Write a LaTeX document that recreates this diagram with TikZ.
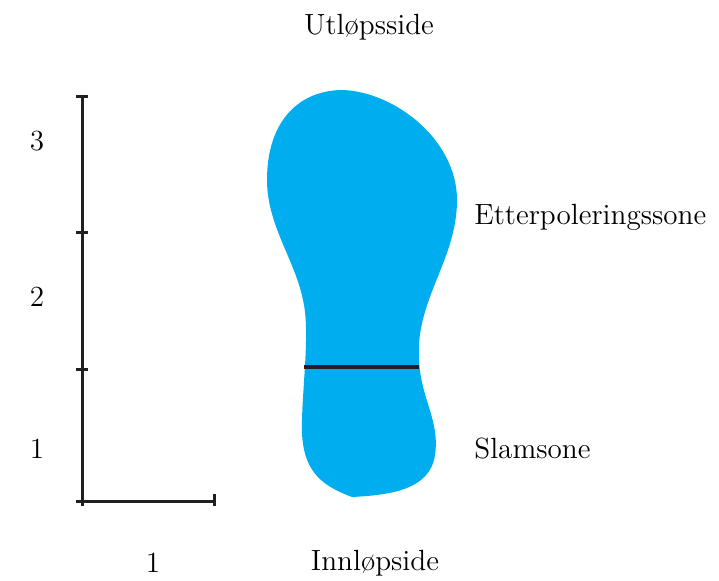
\documentclass[tikz,border=0pt]{standalone}
\usepackage{amsmath,amssymb}
\usepackage{xcolor}
\definecolor{slamblue}{HTML}{00AEEF}
\definecolor{akse}{HTML}{231F20}

\begin{document}
\begin{tikzpicture}[x=.5pt,y=-.5pt,
    akselinje/.style={akse, line width=1.5pt},
    skille/.style={akse, line width=2pt},
    tekst/.style={font=\fontsize{14.6}{17}\selectfont, inner sep=0pt}]
  \useasboundingbox (0,0) rectangle (719,580);
  % akser
  \coordinate (o) at (82,501);
  \coordinate (top) at (82,96);
  \coordinate (xend) at (214,501);
  \draw [akselinje] (o) -- (top);
  \draw [akselinje] (o) -- (xend);
  \draw [akselinje] (76,96) -- (88,96);
  \draw [akselinje] (76,232) -- (88,232);
  \draw [akselinje] (76,369) -- (88,369);
  \draw [akselinje] (76,501) -- (88,501);
  \draw [akselinje] (82,496) -- (82,506);
  \draw [akselinje] (214,494) -- (214,506);
  % soneformen
  \fill [slamblue] (343,90) .. controls (395,92) and (457,140) .. (457,200)
      .. controls (457,260) and (415,300) .. (419,360)
      .. controls (421,400) and (440,420) .. (435,455)
      .. controls (430,490) and (390,495) .. (352,497)
      .. controls (320,485) and (300,470) .. (302,420)
      .. controls (303,380) and (310,330) .. (303,300)
      .. controls (295,260) and (267,225) .. (267,180)
      .. controls (267,120) and (300,90) .. (343,90) -- cycle;
  \coordinate (sv) at (304,367);
  \coordinate (sh) at (419,367);
  \draw [skille] (sv) -- (sh);
  % tekster
  \node [tekst] (ut) at (369,27) {Utløpsside};
  \node [tekst] (inn) at (375,563) {Innløpside};
  \node [tekst, anchor=west] (etter) at (474,217) {Etterpoleringssone};
  \node [tekst, anchor=west] (slam) at (474,449) {Slamsone};
  \node [tekst] (y3) at (37,141) {3};
  \node [tekst] (y2) at (37,297) {2};
  \node [tekst] (y1) at (37,449) {1};
  \node [tekst] (x1) at (153,563) {1};
\end{tikzpicture}
\end{document}
